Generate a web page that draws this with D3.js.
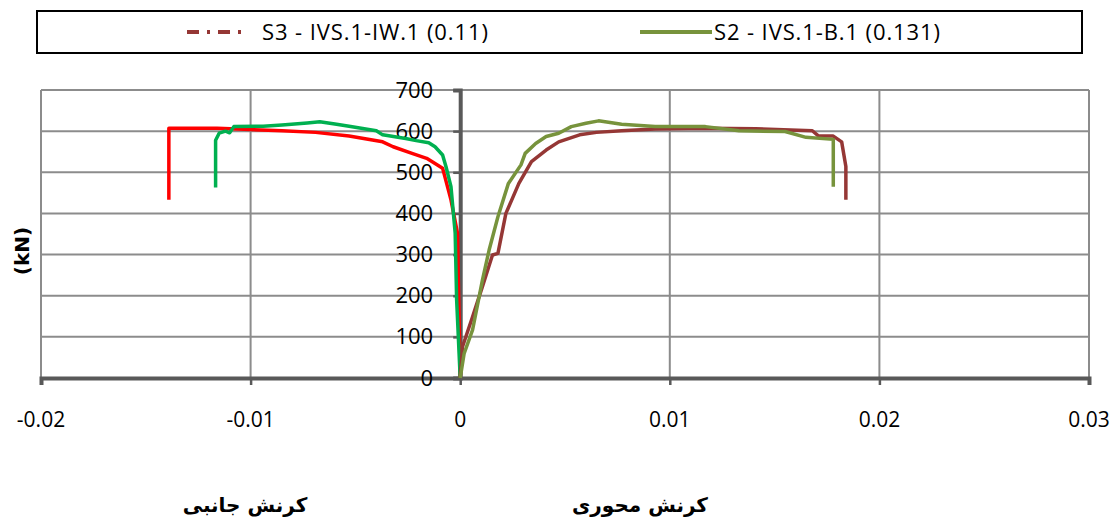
<!DOCTYPE html>
<meta charset="utf-8">
<style>
body { margin: 0; background: #fff; }
svg text { font-family: "Open Sans", sans-serif; }
.grid line { stroke: #8c8c8c; stroke-width: 2; }
.persian { font-family: "DejaVu Sans", sans-serif; font-weight: bold; }
</style>
<svg width="1120" height="523"></svg>
<script src="https://d3js.org/d3.v7.min.js"></script>
<script>

// series names, as in the legend
var seriesNames = ["S3 - IVS.1-IW.1 (0.11)", "S2 - IVS.1-B.1 (0.131)"];

// S3 axial strain / load
var s3AxialStrain = [0, 0.00011, 0.00059, 0.00106, 0.00154, 0.0018, 0.00218, 0.0028, 0.0034, 0.0041, 0.0047, 0.0057, 0.0065, 0.0077, 0.0093, 0.0117, 0.0141, 0.0168, 0.0171, 0.0178, 0.0182, 0.0184, 0.0184];
var s3AxialLoad   = [0, 76, 149, 222, 299, 303, 400, 473, 526, 554, 574, 591, 597, 601, 605, 607, 606, 601, 588, 588, 574, 514, 433];

// S3 lateral strain / load
var s3LatStrain = [0, -0.00013, -0.00044, -0.00084, -0.0016, -0.0023, -0.0032, -0.0037, -0.0053, -0.0069, -0.0085, -0.010, -0.0116, -0.0139, -0.0139];
var s3LatLoad   = [0, 352, 433, 510, 534, 546, 562, 574, 588, 597, 601, 604, 607, 607, 433];

// S2 axial strain / load
var s2AxialStrain = [0, 0.00019, 0.00059, 0.00106, 0.00138, 0.0018, 0.0023, 0.0029, 0.0031, 0.0036, 0.0041, 0.0047, 0.0053, 0.006, 0.0066, 0.0077, 0.0093, 0.0117, 0.0133, 0.0155, 0.0165, 0.0178, 0.0178];
var s2AxialLoad   = [0, 60, 117, 238, 311, 392, 473, 518, 546, 570, 587, 595, 611, 619, 625, 617, 611, 611, 601, 599, 585, 580, 465];

// S2 lateral strain / load
var s2LatStrain = [0, -0.00017, -0.00024, -0.00044, -0.00068, -0.00084, -0.0012, -0.0015, -0.0021, -0.0026, -0.0037, -0.0040, -0.0053, -0.0059, -0.0067, -0.0073, -0.0085, -0.0094, -0.0108, -0.011, -0.0112, -0.0115, -0.01167, -0.01167];
var s2LatLoad   = [0, 190, 352, 465, 514, 542, 562, 572, 577, 582, 591, 601, 612, 617, 623, 620, 615, 612, 611, 596, 600, 595, 578, 463];

var xTicks = [-0.02, -0.01, 0, 0.01, 0.02, 0.03];
var yTicks = [0, 100, 200, 300, 400, 500, 600, 700];

var svg = d3.select("svg");
var margin = {left: 41, right: 31, top: 90, bottom: 145};
var width = 1120 - margin.left - margin.right,
    height = 523 - margin.top - margin.bottom;

var x = d3.scaleLinear().domain([-0.02, 0.03]).range([margin.left, margin.left + width]);
var y = d3.scaleLinear().domain([0, 700]).range([margin.top + height, margin.top]);

// excel style: plain hyphen for negatives
function fmtX(d) { return String(+d.toFixed(2)); }

// gridlines
var grid = svg.append("g").attr("class", "grid");
grid.selectAll(".h").data(yTicks).enter().append("line")
    .attr("x1", x(-0.02)).attr("x2", x(0.03))
    .attr("y1", function(d) { return y(d); }).attr("y2", function(d) { return y(d); });
grid.selectAll(".v").data(xTicks).enter().append("line")
    .attr("x1", function(d) { return x(d); }).attr("x2", function(d) { return x(d); })
    .attr("y1", y(0)).attr("y2", y(700));

// x axis on the zero line
var xAxis = svg.append("g")
    .attr("transform", "translate(0," + y(0) + ")")
    .call(d3.axisBottom(x).tickValues(xTicks).tickSize(7));
xAxis.select(".domain").attr("stroke", "#595959").attr("stroke-width", 4);
xAxis.selectAll(".tick line").attr("stroke", "#595959").attr("stroke-width", 2.5);
xAxis.selectAll(".tick text").remove();

// x tick labels sit well below the axis
svg.append("g").selectAll("text").data(xTicks).enter().append("text")
    .attr("x", function(d) { return x(d); })
    .attr("y", 420)
    .attr("dy", "0.35em")
    .attr("text-anchor", "middle")
    .attr("font-size", 21)
    .text(fmtX);

// y axis on strain = 0
var yAxis = svg.append("g")
    .attr("transform", "translate(" + x(0) + ",0)")
    .call(d3.axisLeft(y).tickValues(yTicks).tickSize(7).tickPadding(20));
yAxis.select(".domain").attr("stroke", "#595959").attr("stroke-width", 4);
yAxis.selectAll(".tick line").attr("stroke", "#595959").attr("stroke-width", 2.5);
yAxis.selectAll(".tick text").attr("font-size", 22).attr("fill", "#000")
    .attr("font-family", "'Open Sans', sans-serif");

// y label
svg.append("text")
    .attr("transform", "translate(29,251) rotate(-90)")
    .attr("text-anchor", "middle")
    .attr("font-size", 20)
    .attr("font-weight", "bold")
    .style("font-family", "'DejaVu Sans', sans-serif")
    .text("(kN)");

// curves
var line = d3.line()
    .x(function(d) { return x(d[0]); })
    .y(function(d) { return y(d[1]); });

var curves = [
  {s: s3LatStrain, l: s3LatLoad, c: "#ff0000"},
  {s: s2LatStrain, l: s2LatLoad, c: "#00b050"},
  {s: s3AxialStrain, l: s3AxialLoad, c: "#953735"},
  {s: s2AxialStrain, l: s2AxialLoad, c: "#77933c"}
];

svg.append("g").selectAll("path").data(curves).enter().append("path")
    .attr("fill", "none")
    .attr("stroke", function(d) { return d.c; })
    .attr("stroke-width", 3.5)
    .attr("stroke-linejoin", "round")
    .attr("d", function(d) { return line(d3.zip(d.s, d.l)); });

// legend box
svg.append("rect")
    .attr("x", 37).attr("y", 11).attr("width", 1045).attr("height", 42)
    .attr("fill", "#fff").attr("stroke", "#000").attr("stroke-width", 2);

svg.append("line")
    .attr("x1", 187).attr("x2", 243).attr("y1", 32).attr("y2", 32)
    .attr("stroke", "#953735").attr("stroke-width", 4)
    .attr("stroke-dasharray", "12,8,3,8");
svg.append("text").attr("x", 262).attr("y", 32).attr("dy", "0.35em")
    .attr("font-size", 22).attr("textLength", 226).text(seriesNames[0]);

svg.append("line")
    .attr("x1", 640).attr("x2", 712).attr("y1", 32).attr("y2", 32)
    .attr("stroke", "#77933c").attr("stroke-width", 4);
svg.append("text").attr("x", 714).attr("y", 32).attr("dy", "0.35em")
    .attr("font-size", 22).attr("textLength", 226).text(seriesNames[1]);

// persian axis captions
svg.append("text").attr("class", "persian")
    .attr("x", 245).attr("y", 505).attr("dy", "0.35em")
    .attr("text-anchor", "middle").attr("font-size", 20)
    .text("کرنش جانبی");
svg.append("text").attr("class", "persian")
    .attr("x", 640).attr("y", 505).attr("dy", "0.35em")
    .attr("text-anchor", "middle").attr("font-size", 20)
    .text("کرنش محوری");

</script>
